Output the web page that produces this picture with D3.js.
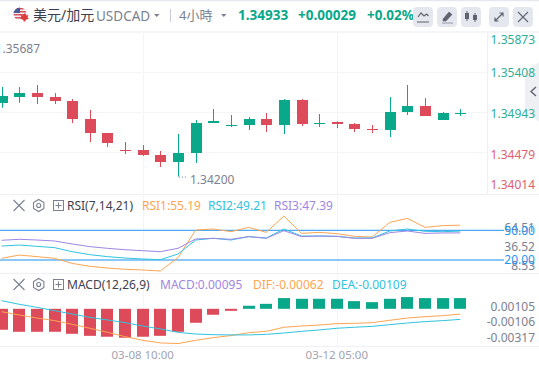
<!DOCTYPE html>
<html>

<head>
  <meta charset="utf-8">
  <title>USDCAD 4H</title>
  <script src="https://cdn.jsdelivr.net/npm/d3@7"></script>
  <style>
    html, body { margin: 0; padding: 0; background: #fff; overflow: hidden; }
    svg { display: block; }
    text { font-family: "Noto Sans", "Noto Sans CJK SC", sans-serif; }
  </style>
</head>

<body>
  <svg id="chart" width="539" height="368"></svg>

  <script>
    // candles
    var opens = [1.35054, 1.35120, 1.35166, 1.35120, 1.35074, 1.34866, 1.34704, 1.34507, 1.34507, 1.34449, 1.34368, 1.34472, 1.34819, 1.34785, 1.34796, 1.34866, 1.34796, 1.35085, 1.34808, 1.34831, 1.34808, 1.34750, 1.34738, 1.34946, 1.35016, 1.34854, 1.34923];
    var highs = [1.35236, 1.35236, 1.35259, 1.35166, 1.35097, 1.34970, 1.34704, 1.34599, 1.34565, 1.34495, 1.34692, 1.34854, 1.34981, 1.34912, 1.34889, 1.34935, 1.35097, 1.35097, 1.34923, 1.34839, 1.34819, 1.34796, 1.35120, 1.35259, 1.35108, 1.34946, 1.34981];
    var lows = [1.34996, 1.35054, 1.35039, 1.35039, 1.34819, 1.34599, 1.34542, 1.34461, 1.34438, 1.34310, 1.34200, 1.34357, 1.34819, 1.34773, 1.34738, 1.34715, 1.34692, 1.34785, 1.34773, 1.34761, 1.34715, 1.34704, 1.34657, 1.34912, 1.34900, 1.34854, 1.34900];
    var closes = [1.35132, 1.35166, 1.35120, 1.35074, 1.34866, 1.34704, 1.34588, 1.34495, 1.34449, 1.34368, 1.34472, 1.34819, 1.34842, 1.34796, 1.34866, 1.34796, 1.35085, 1.34808, 1.34819, 1.34808, 1.34750, 1.34738, 1.34946, 1.35016, 1.34900, 1.34935, 1.34935];

    var rsi1 = [21.7, 25, 23.4, 21.7, 16.6, 13.6, 11.9, 10.6, 9.9, 8.9, 22.4, 50.3, 51.3, 48.6, 53, 47.9, 64.4, 46.9, 47.9, 46.6, 43.9, 43.2, 58, 62, 53, 54.7, 55.19];
    var rsi2 = [34.1, 35.1, 33.8, 32.5, 28.4, 25.4, 23.4, 22, 21, 20.3, 26.1, 40.2, 41.9, 40.2, 43.6, 42.2, 51.3, 44.2, 44.2, 43.9, 42.2, 42.2, 49.3, 51.3, 49, 48.6, 49.21];
    var rsi3 = [39.9, 40.9, 40.2, 39.2, 36.2, 33.5, 31.8, 30.4, 29.4, 28.4, 31.8, 41.2, 41.9, 40.9, 43.6, 41.9, 49.6, 43.6, 44.2, 43.9, 41.9, 41.9, 47.6, 49.3, 46.9, 47.3, 47.39];

    var macdBars = [-0.00186, -0.00204, -0.00204, -0.00204, -0.00222, -0.0024, -0.00248, -0.00257, -0.00248, -0.0024, -0.00204, -0.00124, -0.00053, -0.00018, 0.00027, 0.00044, 0.00095, 0.00089, 0.00089, 0.00089, 0.00068, 0.00059, 0.00089, 0.00104, 0.00095, 0.00095, 0.00095];
    var dif = [-0.00041, -0.0007, -0.00097, -0.0012, -0.00153, -0.00188, -0.00224, -0.00262, -0.00295, -0.00318, -0.00324, -0.00295, -0.00271, -0.00253, -0.00227, -0.00215, -0.00179, -0.00168, -0.00159, -0.00147, -0.00144, -0.00138, -0.00117, -0.00097, -0.00085, -0.00076, -0.00062];
    var dea = [0.00057, 0.00025, -0.00002, -0.00032, -0.00061, -0.00091, -0.00114, -0.00138, -0.00168, -0.00194, -0.00224, -0.00239, -0.00245, -0.00247, -0.00247, -0.00242, -0.0023, -0.00215, -0.00203, -0.00188, -0.00179, -0.00171, -0.00156, -0.00141, -0.00129, -0.0012, -0.00109];

    var priceTicks = ["1.35873", "1.35408", "1.34943", "1.34479", "1.34014"];
    var rsiTicks = ["64.51", "36.52", "8.53"];
    var rsiGuides = ["50.00", "20.00"];
    var macdTicks = ["0.00105", "-0.00106", "-0.00317"];
    var timeTicks = [{ i: 8, label: "03-08 10:00" }, { i: 19, label: "03-12 05:00" }];

    var UP = "#0aa88a", DOWN = "#dd4b5a", GRID = "#f4f5f9", GRAY = "#7c8191";
    var ORANGE = "#ffa552", CYAN = "#2fc3df", PURPLE = "#9f86e3", BLUE = "#2196f3";

    var svg = d3.select("#chart");

    var x = d3.scaleLinear().domain([0, 26]).range([1.6, 460.3]);
    var y = d3.scaleLinear().domain([1.34014, 1.35873]).range([192.6, 32]);
    var yRsi = d3.scaleLinear().domain([20, 50]).range([260, 230.3]);
    var yRsiAxis = d3.scaleLinear().domain([8.53, 64.51]).range([266, 227.3]);
    var yBar = d3.scaleLinear().domain([0, 0.00095]).range([308.8, 298.1]);
    var yLine = d3.scaleLinear().domain([0, 0.00095]).range([307.1, 296.4]);
    var yMacdAxis = d3.scaleLinear().domain([-0.00317, 0.00105]).range([337.7, 306.7]);

    function text(px, py, str, color, size, anchor, weight) {
      return svg.append("text")
        .attr("x", px).attr("y", py)
        .attr("dy", ".35em")
        .attr("fill", color)
        .attr("font-size", size)
        .attr("text-anchor", anchor || "start")
        .attr("font-weight", weight || 400)
        .text(str);
    }

    function hline(x1, x2, py, color, w) {
      svg.append("line").attr("x1", x1).attr("x2", x2).attr("y1", py).attr("y2", py)
        .attr("stroke", color).attr("stroke-width", w || 1);
    }

    function vline(px, y1, y2, color, w) {
      svg.append("line").attr("x1", px).attr("x2", px).attr("y1", y1).attr("y2", y2)
        .attr("stroke", color).attr("stroke-width", w || 1);
    }

    // grid and pane frames
    hline(0, 539, 0.5, "#e6e8f0", 1.5);
    hline(0, 539, 32, GRID, 2);
    priceTicks.slice(1, 4).forEach(function (t) { hline(0, 487, Math.round(y(+t)) + 0.5, GRID, 1); });
    hline(0, 539, 194.5, "#eff0f5", 1);
    hline(0, 539, 273.5, "#eff0f5", 1);
    hline(0, 539, 346.5, "#eff0f5", 1);
    vline(487.5, 32, 194, "#eff0f5", 1);
    timeTicks.forEach(function (t) { vline(Math.round(x(t.i)) + 0.5, 33, 346, GRID, 1); });

    // collapse tab, sits under the price labels
    var ic = "#5f6372";
    svg.append("path").attr("d", "M539 62L525 72V112L539 122Z").attr("fill", "#eef0f4");
    svg.append("path").attr("d", "M536 87L531 91.5L536 96").attr("fill", "none").attr("stroke", ic).attr("stroke-width", 1.4);

    // candles
    var candles = svg.append("g").selectAll("g")
      .data(d3.range(opens.length))
      .enter().append("g")
      .attr("fill", function (i) { return closes[i] >= opens[i] ? UP : DOWN; })
      .attr("stroke", function (i) { return closes[i] >= opens[i] ? UP : DOWN; });

    candles.append("line")
      .attr("x1", function (i) { return Math.round(x(i)) + 0.5; })
      .attr("x2", function (i) { return Math.round(x(i)) + 0.5; })
      .attr("y1", function (i) { return y(highs[i]); })
      .attr("y2", function (i) { return y(lows[i]); });

    candles.append("rect")
      .attr("stroke", "none")
      .attr("x", function (i) { return Math.round(x(i)) - 5; })
      .attr("width", 11)
      .attr("y", function (i) { return Math.round(y(Math.max(opens[i], closes[i]))); })
      .attr("height", function (i) { return Math.max(1, Math.round(Math.abs(y(opens[i]) - y(closes[i])))); });

    // price labels
    var priceLabelY = [39.5, 73, 113.5, 154.5, 184.5];
    priceTicks.forEach(function (t, i) {
      text(535, priceLabelY[i], t, i < 3 ? "#2fae97" : "#e0616d", 12, "end");
    });
    text(40, 49, "1.35687", GRAY, 12, "end");
    svg.append("line").attr("x1", x(10) + 1).attr("x2", 188).attr("y1", y(1.342) + 0.5).attr("y2", y(1.342) + 0.5)
      .attr("stroke", GRAY).attr("stroke-dasharray", "1 2");
    text(190, 179.5, "1.34200", GRAY, 12);

    // RSI pane
    var rsiLine = d3.line().x(function (d, i) { return x(i); }).y(function (d) { return yRsi(d); });
    hline(0, 504, yRsi(50), BLUE, 1);
    hline(0, 504, yRsi(20), "#64b5f6", 1.5);
    [[rsi1, ORANGE], [rsi2, CYAN], [rsi3, PURPLE]].forEach(function (s) {
      svg.append("path").attr("d", rsiLine(s[0])).attr("fill", "none").attr("stroke", s[1]).attr("stroke-width", 1);
    });
    rsiTicks.forEach(function (t) { text(535, yRsiAxis(+t), t, GRAY, 12, "end"); });
    rsiGuides.forEach(function (t) { text(535, yRsi(+t), t, BLUE, 12, "end"); });

    // MACD pane
    var difLine = d3.line().x(function (d, i) { return x(i); }).y(function (d) { return yLine(d); });
    svg.append("g").selectAll("rect")
      .data(macdBars)
      .enter().append("rect")
      .attr("x", function (d, i) { return Math.round(x(i)) - 6; })
      .attr("width", 12)
      .attr("y", function (d) { return Math.min(yBar(d), yBar(0)); })
      .attr("height", function (d) { return Math.abs(yBar(d) - yBar(0)); })
      .attr("fill", function (d) { return d >= 0 ? UP : DOWN; });
    svg.append("path").attr("d", difLine(dif)).attr("fill", "none").attr("stroke", ORANGE).attr("stroke-width", 1);
    svg.append("path").attr("d", difLine(dea)).attr("fill", "none").attr("stroke", CYAN).attr("stroke-width", 1);
    macdTicks.forEach(function (t) { text(535, yMacdAxis(+t), t, GRAY, 12, "end"); });

    // time axis
    timeTicks.forEach(function (t) { text(x(t.i), 354.5, t.label, "#a0a4b2", 11.5, "middle"); });

    // pane legends
    function paneIcons(py) {
      var c = "#7c8191";
      svg.append("path").attr("d", "M13.5 " + (py - 5.5) + "L24.5 " + (py + 5.5) + "M24.5 " + (py - 5.5) + "L13.5 " + (py + 5.5))
        .attr("stroke", c).attr("stroke-width", 1.1).attr("fill", "none");
      var hex = d3.range(6).map(function (k) {
        var a = Math.PI / 3 * k + Math.PI / 6;
        return [38.7 + 6 * Math.cos(a), py + 6 * Math.sin(a)];
      });
      svg.append("path").attr("d", d3.line()(hex) + "Z").attr("fill", "none").attr("stroke", c).attr("stroke-width", 1.1);
      svg.append("circle").attr("cx", 38.7).attr("cy", py).attr("r", 2).attr("fill", "none").attr("stroke", c).attr("stroke-width", 1.1);
      svg.append("rect").attr("x", 53.5).attr("y", py - 5).attr("width", 10).attr("height", 10).attr("fill", "none").attr("stroke", c);
      svg.append("path").attr("d", "M55.5 " + py + "H61.5M58.5 " + (py - 3) + "V" + (py + 3)).attr("stroke", c).attr("fill", "none");
    }
    paneIcons(205.5);
    paneIcons(284.5);
    text(67, 205.5, "RSI(7,14,21)", "#3d4150", 12);
    text(142, 205.5, "RSI1:55.19", ORANGE, 12);
    text(208, 205.5, "RSI2:49.21", CYAN, 12);
    text(274, 205.5, "RSI3:47.39", PURPLE, 12);
    text(67, 284.5, "MACD(12,26,9)", "#3d4150", 12);
    text(160, 284.5, "MACD:0.00095", PURPLE, 12);
    text(253, 284.5, "DIF:-0.00062", ORANGE, 12);
    text(332, 284.5, "DEA:-0.00109", CYAN, 12);

    // header
    var defs = svg.append("defs");
    defs.append("clipPath").attr("id", "flag").append("circle").attr("cx", 20).attr("cy", 14).attr("r", 6.5);
    var flag = svg.append("g").attr("clip-path", "url(#flag)");
    flag.append("rect").attr("x", 13).attr("y", 7).attr("width", 14).attr("height", 14).attr("fill", "#f2f2f4");
    d3.range(4).forEach(function (k) {
      flag.append("rect").attr("x", 13).attr("y", 8 + k * 3).attr("width", 14).attr("height", 1.5).attr("fill", "#d9505c");
    });
    flag.append("rect").attr("x", 13).attr("y", 7).attr("width", 7).attr("height", 6).attr("fill", "#4a5a96");
    svg.append("path").attr("d", "M24.5 13L26 15.5L28.5 15L27.5 17.5L29 18.5L25.5 20V21.5H23.5V20L20 18.5L21.5 17.5L20.5 15L23 15.5Z").attr("fill", "#dd3b3b");
    text(33, 15, "美元/加元", "#3a3d4a", 14);
    text(96, 16, "USDCAD", GRAY, 13.5);
    svg.append("path").attr("d", "M154 14H159.5L156.75 17Z").attr("fill", GRAY);
    vline(170.5, 9, 22, "#c9ccd6", 1);
    text(179, 15, "4小時", GRAY, 13);
    svg.append("path").attr("d", "M221 14H226.5L223.75 17Z").attr("fill", GRAY);
    text(238, 15, "1.34933", UP, 13.5, "start", 700);
    text(298, 15, "+0.00029", UP, 13.5, "start", 700);
    text(367, 15, "+0.02%", UP, 13.5, "start", 700);

    // toolbar buttons
    var buttons = [413, 437, 461, 489, 513];
    buttons.forEach(function (bx) {
      svg.append("rect").attr("x", bx).attr("y", 7).attr("width", 20).attr("height", 20).attr("rx", 4).attr("fill", "#e5e7ee");
    });
    svg.append("path").attr("d", "M418 17L421 13L424 16L426.5 14L428.5 16M417 22H429").attr("fill", "none").attr("stroke", ic).attr("stroke-width", 1.2);
    svg.append("path").attr("d", "M443 19L449 12L452 14.5L446 21H443ZM442 23H453").attr("fill", ic).attr("stroke", ic).attr("stroke-width", 0.6);
    svg.append("path").attr("d", "M467 11V21M475 13V22").attr("stroke", ic).attr("fill", "none");
    svg.append("rect").attr("x", 465).attr("y", 13).attr("width", 4).attr("height", 6).attr("fill", ic);
    svg.append("rect").attr("x", 473).attr("y", 15).attr("width", 4).attr("height", 5).attr("fill", ic);
    svg.append("path").attr("d", "M495 21L503 13M499.5 13H503V16.5M495 17.5V21H498.5").attr("fill", "none").attr("stroke", ic).attr("stroke-width", 1.2);
    svg.append("path").attr("d", "M518 12L528 22M528 12L518 22").attr("fill", "none").attr("stroke", ic).attr("stroke-width", 1.1);
  </script>
</body>

</html>
